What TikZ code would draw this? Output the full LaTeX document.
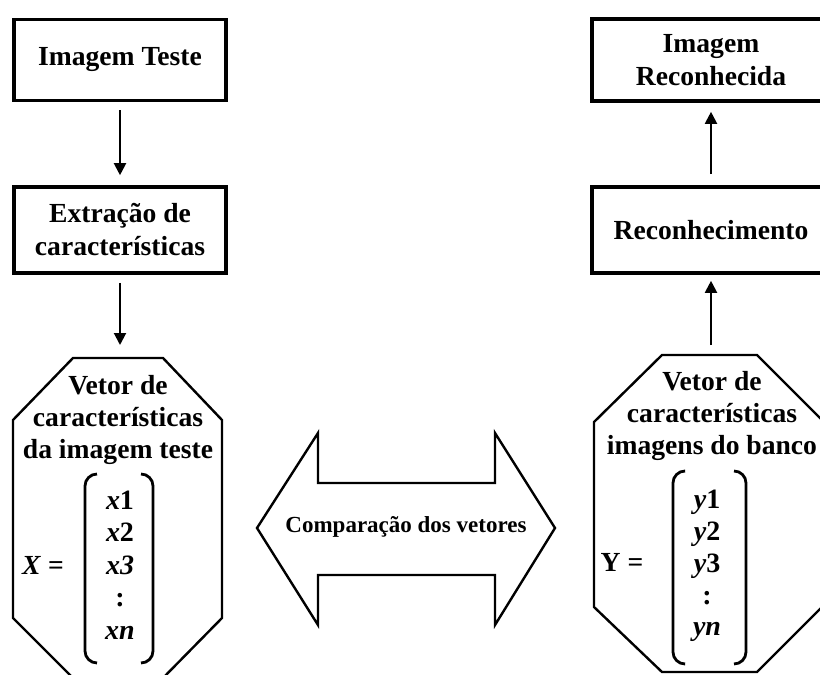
\documentclass[tikz,border=0pt]{standalone}
\usepackage{fontspec}
\setmainfont{Liberation Serif}
\usetikzlibrary{arrows.meta}
\tikzset{ %unidades em pixels da figura
  >={Triangle[length=6pt,width=6pt]},
  box/.style ={draw,line width=1.8pt,minimum width=106pt,align=center,
    font=\fontsize{13.8}{16.5}\selectfont\bfseries},
  {txt/.style} ={align=center,inner sep=0pt,
    font=\fontsize{13.8}{16}\selectfont\bfseries},
  {octo/.style} ={draw,line width=1.2pt,line join=miter},
  {brk/.style} ={draw,line width=1.4pt,rounded corners=6pt},
  {dedge/.style} ={draw,->,line width=1pt},
 }
\begin{document}
\begin{tikzpicture}[x=0.5pt,y=-0.5pt]
        \clip (0,0) rectangle (820,675);
        % lado esquerdo
        \node[box,minimum height=40.5pt] (it) at (120,60) {Imagem Teste};
        \node[box,minimum height=43pt] (ex) at (120,230)
                {Extração de\\características};
        \draw[octo] (73,358) -- (163,358) -- (222,420) -- (222,618)
                -- (163,678) -- (73,678) -- (13,618) -- (13,420) -- cycle;
        \coordinate (vxn) at (120,358);
        \node[txt] (vx) at (118,420) {Vetor de\\características\\da imagem teste};
        \node[txt] (xl) at (43,565) {\textit{X} =};
        \node[txt,font=\fontsize{14}{16.25}\selectfont\bfseries] (xv) at (120,565)
                {\textit{x}1\\\textit{x}2\\\textit{x3}\\:\\\textit{xn}};
        \draw[brk] (97,474) -- (85,474) -- (85,663) -- (97,663);
        \draw[brk] (141,474) -- (153,474) -- (153,663) -- (141,663);
        % meio
        \draw[octo] (257,528) -- (318,433) -- (318,483) -- (495,483) -- (495,433)
                -- (555,528) -- (495,625) -- (495,575) -- (318,575) -- (318,625) -- cycle;
        \node[txt,font=\fontsize{11.5}{14}\selectfont\bfseries] (cmp) at (406,527)
                {Comparação dos vetores};
        % lado direito
        \node[box,minimum width=119pt,minimum height=41pt] (ir) at (711,60)
                {Imagem\\Reconhecida};
        \node[box,minimum width=119pt,minimum height=43pt] (rc) at (711,230)
                {Reconhecimento};
        \draw[octo] (662,355) -- (757,355) -- (824,422) -- (824,605)
                -- (757,672) -- (662,672) -- (594,607) -- (594,422) -- cycle;
        \coordinate (vyn) at (711,355);
        \node[txt] (vy) at (712,416) {Vetor de\\características\\imagens do banco};
        \node[txt] (yl) at (622,562) {Y =};
        \node[txt,font=\fontsize{14}{15.9}\selectfont\bfseries] (yv) at (707,566)
                {\textit{y}1\\\textit{y}2\\\textit{y}3\\:\\\textit{yn}};
        \draw[brk] (684,471) -- (673,471) -- (673,664) -- (684,664);
        \draw[brk] (734,471) -- (746,471) -- (746,664) -- (734,664);
        % setas
        \draw[dedge,shorten <=4pt,shorten >=5pt] (it) -- (ex);
        \draw[dedge,shorten <=4pt,shorten >=6.5pt] (ex) -- (vxn);
        \draw[dedge,shorten <=5pt,shorten >=3pt] (vyn) -- (rc);
        \draw[dedge,shorten <=5.5pt,shorten >=4.5pt] (rc) -- (ir);
\end{tikzpicture}
\end{document}
